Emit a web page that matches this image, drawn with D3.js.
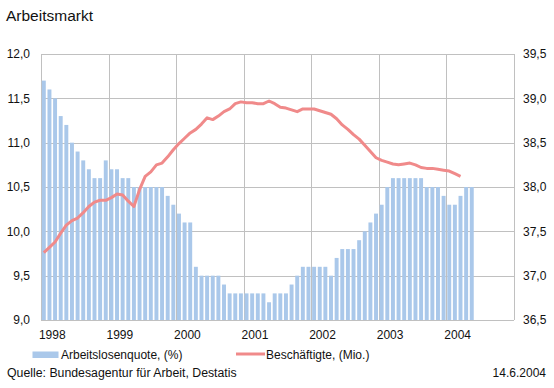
<!DOCTYPE html>
<meta charset="utf-8">
<style>
body { margin: 0; background: #fff; }
svg { display: block; font-family: "Liberation Sans", Arial, sans-serif; }
.grid line { stroke: #c0c0c0; stroke-width: 1px; shape-rendering: crispEdges; }
.grid path { display: none; }
.axis path, .axis line { display: none; }
.axis text { font-size: 12px; fill: #111; }
.bar { fill: #aac8ea; }
.line { fill: none; stroke: #f08a8a; stroke-width: 3px; stroke-linejoin: round; }
.label { font-size: 12px; fill: #111; }
</style>
<svg width="554" height="388"></svg>
<script src="https://d3js.org/d3.v7.min.js"></script>
<script>

// years on the x axis (monthly categories, 12 per year)
var years = ["1998", "1999", "2000", "2001", "2002", "2003", "2004"];

// Arbeitslosenquote in %, Jan 1998 - May 2004
var quote = [
  11.7, 11.6, 11.5, 11.3, 11.2, 11.0, 10.9, 10.8, 10.7, 10.6, 10.6, 10.8,
  10.7, 10.7, 10.6, 10.6, 10.5, 10.5, 10.5, 10.5, 10.5, 10.5, 10.4, 10.3,
  10.2, 10.1, 10.1, 9.6, 9.5, 9.5, 9.5, 9.5, 9.4, 9.3, 9.3, 9.3,
  9.3, 9.3, 9.3, 9.3, 9.2, 9.3, 9.3, 9.3, 9.4, 9.5, 9.6, 9.6,
  9.6, 9.6, 9.6, 9.5, 9.7, 9.8, 9.8, 9.8, 9.9, 10.0, 10.1, 10.2,
  10.3, 10.5, 10.6, 10.6, 10.6, 10.6, 10.6, 10.6, 10.5, 10.5, 10.5, 10.4,
  10.3, 10.3, 10.4, 10.5, 10.5
];

// Beschäftigte in Mio., Jan 1998 - Mar 2004
var employed = [
  37.26, 37.32, 37.38, 37.48, 37.57, 37.62, 37.65, 37.71, 37.78, 37.83, 37.85, 37.85,
  37.88, 37.92, 37.91, 37.84, 37.78, 37.97, 38.12, 38.17, 38.25, 38.27, 38.34, 38.42,
  38.49, 38.55, 38.61, 38.65, 38.71, 38.78, 38.76, 38.80, 38.85, 38.88, 38.94, 38.96,
  38.95, 38.95, 38.94, 38.94, 38.97, 38.94, 38.90, 38.89, 38.87, 38.85, 38.88, 38.88,
  38.88, 38.86, 38.84, 38.82, 38.77, 38.70, 38.65, 38.59, 38.54, 38.47, 38.40, 38.33,
  38.30, 38.28, 38.26, 38.25, 38.26, 38.27, 38.25, 38.22, 38.21, 38.21, 38.20, 38.19,
  38.18, 38.15, 38.12
];

var leftTicks = [9.0, 9.5, 10.0, 10.5, 11.0, 11.5, 12.0];
var rightTicks = [36.5, 37.0, 37.5, 38.0, 38.5, 39.0, 39.5];

var months = d3.range(years.length * 12);

var svg = d3.select("svg"),
    margin = {top: 54, right: 40, bottom: 68, left: 41},
    width = 514 - margin.left,
    height = 320 - margin.top,
    g = svg.append("g").attr("transform", "translate(" + margin.left + "," + margin.top + ")");

var de = d3.formatLocale({decimal: ",", thousands: ".", grouping: [3], currency: ["", " €"]});
var fmt = de.format(".1f");

var x = d3.scaleBand().domain(months).range([0, width]),
    yL = d3.scaleLinear().domain([9, 12]).range([height, 0]),
    yR = d3.scaleLinear().domain([36.5, 39.5]).range([height, 0]);

// horizontal grid
g.append("g")
    .attr("class", "grid")
    .call(d3.axisLeft(yL).tickValues(leftTicks).tickSize(-width).tickFormat(""));

// vertical year grid + frame
g.selectAll(".vgrid")
  .data(d3.range(years.length + 1))
  .enter().append("line")
    .attr("class", "vgrid")
    .attr("x1", function(d) { return Math.round(d * 12 * x.step()) + 0.5; })
    .attr("x2", function(d) { return Math.round(d * 12 * x.step()) + 0.5; })
    .attr("y1", 0)
    .attr("y2", height)
    .style("stroke", "#c0c0c0")
    .style("shape-rendering", "crispEdges");

// bars
var bw = x.bandwidth() * 0.7;
g.selectAll(".bar")
  .data(quote)
  .enter().append("rect")
    .attr("class", "bar")
    .attr("x", function(d, i) { return x(i) + (x.bandwidth() - bw) / 2; })
    .attr("y", function(d) { return yL(d); })
    .attr("width", bw)
    .attr("height", function(d) { return height - yL(d); });

// employment line
var line = d3.line()
    .x(function(d, i) { return x(i) + x.bandwidth() / 2; })
    .y(function(d) { return yR(d); });

g.append("path")
    .datum(employed)
    .attr("class", "line")
    .attr("d", line);

// axes
g.append("g")
    .attr("class", "axis axis--left")
    .call(d3.axisLeft(yL).tickValues(leftTicks).tickSize(0).tickPadding(11).tickFormat(fmt));

g.append("g")
    .attr("class", "axis axis--right")
    .attr("transform", "translate(" + width + ",0)")
    .call(d3.axisRight(yR).tickValues(rightTicks).tickSize(0).tickPadding(9).tickFormat(fmt));

g.selectAll(".year")
  .data(years)
  .enter().append("text")
    .attr("class", "label")
    .attr("x", function(d, i) { return x(i * 12) + 2 * x.step(); })
    .attr("y", height + 19)
    .attr("text-anchor", "middle")
    .text(function(d) { return d; });

// title
svg.append("text")
    .attr("x", 6)
    .attr("y", 21)
    .style("font-size", "15.5px")
    .style("fill", "#111")
    .text("Arbeitsmarkt");

// legend
svg.append("rect")
    .attr("x", 32.5)
    .attr("y", 351.5)
    .attr("width", 26)
    .attr("height", 6.5)
    .attr("class", "bar");

svg.append("text")
    .attr("class", "label")
    .attr("x", 61)
    .attr("y", 358.5)
    .text("Arbeitslosenquote, (%)");

svg.append("line")
    .attr("x1", 236)
    .attr("x2", 265)
    .attr("y1", 354)
    .attr("y2", 354)
    .attr("class", "line");

svg.append("text")
    .attr("class", "label")
    .attr("x", 266)
    .attr("y", 358.5)
    .text("Beschäftigte, (Mio.)");

// footer
svg.append("text")
    .attr("class", "label")
    .attr("x", 7)
    .attr("y", 377)
    .style("font-size", "12.3px")
    .text("Quelle: Bundesagentur für Arbeit, Destatis");

svg.append("text")
    .attr("class", "label")
    .attr("x", 546)
    .attr("y", 377)
    .attr("text-anchor", "end")
    .text("14.6.2004");

</script>
